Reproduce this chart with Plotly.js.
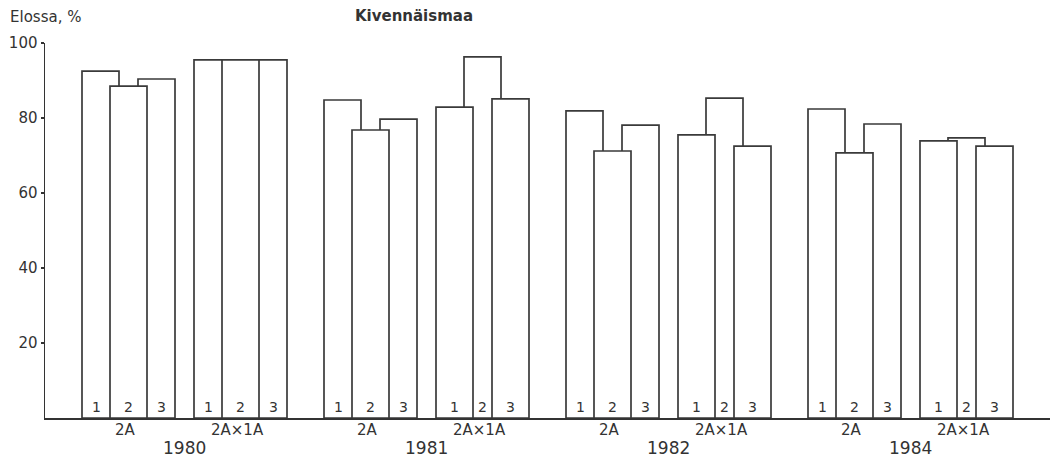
<!DOCTYPE html>
<html><head><meta charset="utf-8">
<script src="https://cdn.plot.ly/plotly-3.0.1.min.js"></script>
<style>html,body{margin:0;padding:0;background:#fff}#chart{width:1057px;height:462px}</style>
</head><body><div id="chart"></div>
<script>
// ---- data (survival, %) ----
const years = ['1980', '1981', '1982', '1984'];
const crosses = ['2A', '2A×1A'];
const subLabels = ['1', '2', '3'];
const yTickVals = [20, 40, 60, 80, 100];
const yTickText = ['20', '40', '60', '80', '100'];
const v1980_2A = [92.5, 88.5, 90.4];
const v1980_2Ax1A = [95.5, 95.5, 95.5];
const v1981_2A = [84.8, 76.8, 79.7];
const v1981_2Ax1A = [82.9, 96.3, 85.1];
const v1982_2A = [81.9, 71.2, 78.1];
const v1982_2Ax1A = [75.5, 85.3, 72.5];
const v1984_2A = [82.4, 70.7, 78.4];
const v1984_2Ax1A = [73.9, 74.7, 72.5];
const groupValues = [v1980_2A, v1980_2Ax1A, v1981_2A, v1981_2Ax1A,
                     v1982_2A, v1982_2Ax1A, v1984_2A, v1984_2Ax1A];

// ---- geometry (axis units) ----
const firstStart = 37, yearStep = 242, pairStep = 112, barStep = 28, barWidth = 37;
const FONT = 'DejaVu Sans, Arial, sans-serif';
const INK = '#333';

const xs = [], ys = [], ws = [];
const annotations = [];
groupValues.forEach((vals, g) => {
  const yr = Math.floor(g / 2), c = g % 2;
  const gStart = firstStart + yr * yearStep + c * pairStep;
  const bars = vals.map((v, k) => ({k, v, s: gStart + k * barStep, e: gStart + k * barStep + barWidth}));
  // shorter bars in front: draw tallest first; ties -> middle bar last
  const order = bars.slice().sort((a, b) => (b.v - a.v) || (Math.abs(b.k - 1) - Math.abs(a.k - 1)));
  order.forEach((b, i) => {
    xs.push((b.s + b.e) / 2); ys.push(b.v); ws.push(barWidth);
    // visible part
    let s = b.s, e = b.e;
    order.slice(i + 1).forEach(f => {
      if (f.s <= s && f.e > s) s = f.e;
      if (f.s < e && f.e >= e) e = f.s;
    });
    annotations.push({x: (s + e) / 2, y: 2.9, xref: 'x', yref: 'y', text: subLabels[b.k],
      showarrow: false, xanchor: 'center', yanchor: 'middle', font: {family: FONT, size: 14, color: INK}});
  });
  const gCenter = gStart + (2 * barStep + barWidth) / 2;
  annotations.push({x: gCenter - 3, y: -0.032, xref: 'x', yref: 'paper', text: crosses[c], showarrow: false,
    xanchor: 'center', yanchor: 'middle', font: {family: FONT, size: 15, color: INK}});
  if (c === 1) {
    const yCenter = gCenter - pairStep / 2;
    annotations.push({x: yCenter, y: -0.08, xref: 'x', yref: 'paper', text: years[yr], showarrow: false,
      xanchor: 'center', yanchor: 'middle', font: {family: FONT, size: 17, color: INK}});
  }
});

annotations.push({x: -37 / 1005, y: 1 + 26 / 375, xref: 'paper', yref: 'paper', text: 'Elossa, %',
  showarrow: false, xanchor: 'left', yanchor: 'middle', font: {family: FONT, size: 15, color: INK}});

const trace = {
  type: 'bar', x: xs, y: ys, width: ws,
  marker: {color: '#ffffff', line: {color: '#3a3a3a', width: 1.7}},
  hoverinfo: 'skip', showlegend: false
};

const layout = {
  width: 1057, height: 462,
  margin: {l: 45, r: 7, t: 43, b: 44, pad: 0},
  paper_bgcolor: '#fff', plot_bgcolor: '#fff',
  barmode: 'overlay',
  title: {text: 'Kivennäismaa', x: 414 / 1057, xanchor: 'center', xref: 'container',
          y: 1 - 16 / 462, yanchor: 'middle', yref: 'container',
          font: {family: FONT, size: 15, color: INK, weight: 'bold'}},
  xaxis: {range: [0, 1005], showline: true, linecolor: INK, linewidth: 1.5, showticklabels: false,
          ticks: '', showgrid: false, zeroline: false, fixedrange: true},
  yaxis: {range: [0, 100], showline: true, linecolor: INK, linewidth: 1.5, ticks: 'outside', ticklen: 3,
          tickwidth: 1.5, tickcolor: INK, tickvals: yTickVals, ticktext: yTickText,
          tickfont: {family: FONT, size: 15, color: INK}, showgrid: false, zeroline: false, fixedrange: true},
  annotations: annotations
};

Plotly.newPlot('chart', [trace], layout, {displayModeBar: false, staticPlot: true});
</script></body></html>
